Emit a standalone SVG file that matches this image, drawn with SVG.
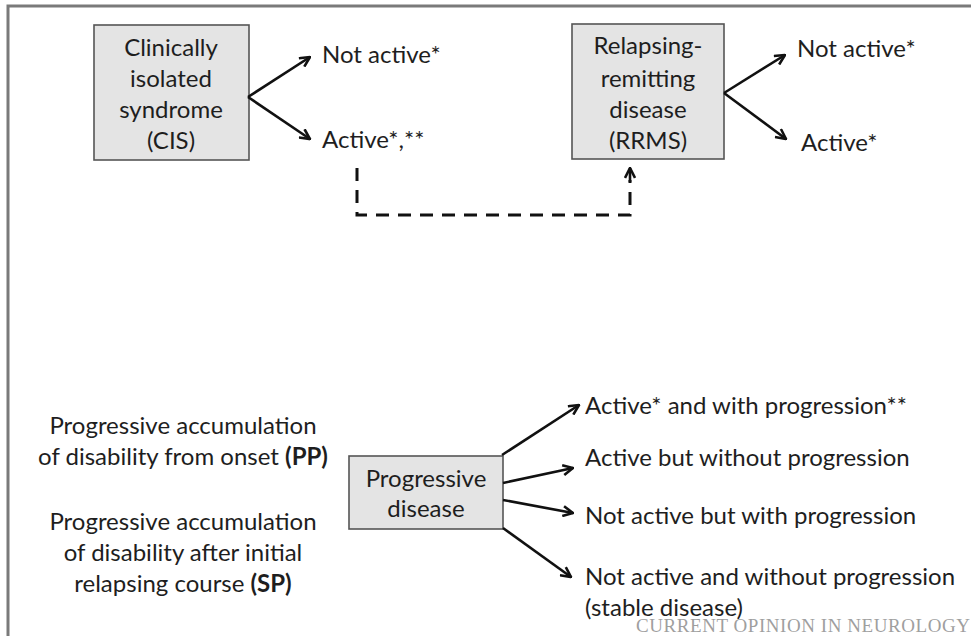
<svg xmlns="http://www.w3.org/2000/svg" width="971" height="636" viewBox="0 0 971 636">
<defs>
<style>
.t{font-family:Lato,"Noto Sans","Liberation Sans",sans-serif;font-size:24px;fill:#1e1e1e}
.b{font-weight:bold}
.box{fill:#e4e4e4;stroke:#555;stroke-width:1.6}
.ln{fill:none;stroke:#111;stroke-width:2.6}
.ds{fill:none;stroke:#111;stroke-width:3;stroke-dasharray:13 9}
.fr{fill:none;stroke:#7a7a7a;stroke-width:3}
</style>
<marker id="ah" viewBox="0 0 12 12" refX="11" refY="6" markerWidth="12" markerHeight="12" markerUnits="userSpaceOnUse" orient="auto">
<path d="M1,1 L11,6 L1,11" fill="none" stroke="#111" stroke-width="2.6"/>
</marker>
</defs>
<rect width="971" height="636" fill="#fff"/>
<path class="fr" d="M8,636 V6 H971"/>
<g id="cis">
<rect class="box" x="94" y="25" width="155" height="135"/>
<text class="t" text-anchor="middle" x="171"><tspan x="171" y="56">Clinically</tspan><tspan x="171" y="87">isolated</tspan><tspan x="171" y="118">syndrome</tspan><tspan x="171" y="149">(CIS)</tspan></text>
</g>
<g id="rrms">
<rect class="box" x="572" y="24" width="152" height="135"/>
<text class="t" text-anchor="middle" x="648"><tspan x="648" y="54">Relapsing-</tspan><tspan x="648" y="87">remitting</tspan><tspan x="648" y="118">disease</tspan><tspan x="648" y="149">(RRMS)</tspan></text>
</g>
<g id="pd">
<rect class="box" x="349" y="456" width="154" height="73"/>
<text class="t" text-anchor="middle" x="426"><tspan x="426" y="487">Progressive</tspan><tspan x="426" y="517">disease</tspan></text>
</g>
<g id="labels">
<text class="t" x="322" y="63">Not active*</text>
<text class="t" x="322" y="148">Active*,**</text>
<text class="t" x="797" y="57">Not active*</text>
<text class="t" x="801" y="151">Active*</text>
<text class="t" x="585" y="414">Active* and with progression**</text>
<text class="t" x="585" y="466">Active but without progression</text>
<text class="t" x="585" y="524">Not active but with progression</text>
<text class="t" x="585" y="585">Not active and without progression</text>
<text class="t" x="585" y="616">(stable disease)</text>
<text class="t" text-anchor="middle"><tspan x="183" y="434">Progressive accumulation</tspan><tspan x="183" y="465">of disability from onset <tspan class="b">(PP)</tspan></tspan></text>
<text class="t" text-anchor="middle"><tspan x="183" y="530">Progressive accumulation</tspan><tspan x="183" y="561">of disability after initial</tspan><tspan x="183" y="592">relapsing course <tspan class="b">(SP)</tspan></tspan></text>
<text x="970" y="632" text-anchor="end" font-family="'Liberation Serif',serif" font-size="19" textLength="334" lengthAdjust="spacing" fill="#9f9f9f">CURRENT OPINION IN NEUROLOGY</text>
</g>
<g id="connectors">
<path class="ln" marker-end="url(#ah)" d="M248,97 L310,57"/>
<path class="ln" marker-end="url(#ah)" d="M248,97 L310,139"/>
<path class="ln" marker-end="url(#ah)" d="M724,93 L785,55"/>
<path class="ln" marker-end="url(#ah)" d="M724,93 L786,139"/>
<path class="ds" d="M357,168 V215 H630 V180"/>
<path class="ln" marker-end="url(#ah)" d="M630,182 L630,168"/>
<path class="ln" marker-end="url(#ah)" d="M502,455 L579,405"/>
<path class="ln" marker-end="url(#ah)" d="M503,483 L573,468"/>
<path class="ln" marker-end="url(#ah)" d="M503,500 L573,513"/>
<path class="ln" marker-end="url(#ah)" d="M503,528 L571,577"/>
</g>
</svg>
